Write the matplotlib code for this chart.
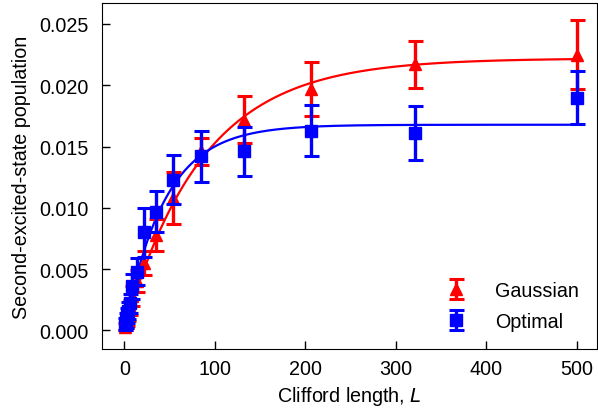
import numpy as np
import matplotlib
matplotlib.use("Agg")
import matplotlib.pyplot as plt

plt.rcParams['font.family'] = ['Liberation Sans', 'DejaVu Sans']
plt.rcParams['font.size'] = 14.2

# Clifford sequence lengths
lengths = [1, 2, 3, 4, 6, 9, 14, 22, 35, 54, 85, 132, 206, 321, 500]

# Gaussian pulse
gauss_pop = [0.0003, 0.0006, 0.0009, 0.0013, 0.0019, 0.0028, 0.0040, 0.0055,
             0.0078, 0.0108, 0.0146, 0.0172, 0.0197, 0.0217, 0.0225]
gauss_err = [0.0003, 0.0004, 0.0005, 0.0005, 0.0006, 0.0008, 0.0009, 0.0010,
             0.0013, 0.0021, 0.0011, 0.0019, 0.0022, 0.0019, 0.0028]

# Optimal pulse
opt_pop = [0.0005, 0.0008, 0.0012, 0.0016, 0.0022, 0.0036, 0.0048, 0.0080,
           0.0097, 0.0123, 0.0142, 0.0146, 0.0163, 0.0161, 0.0190]
opt_err = [0.0005, 0.0006, 0.0006, 0.0007, 0.0008, 0.0010, 0.0011, 0.0020,
           0.0017, 0.0020, 0.0021, 0.0020, 0.0021, 0.0022, 0.0022]

# saturation fits  p(L) = A * (1 - exp(-L / tau))
gauss_fit = {'A': 0.0222, 'tau': 85.8}
opt_fit = {'A': 0.01678, 'tau': 44.5}


def saturation(L, A, tau):
    return A * (1 - np.exp(-L / tau))


fig = plt.figure(figsize=(5.98, 4.14), dpi=100)
ax = fig.add_axes([0.170, 0.155, 0.828, 0.835])

Lfine = np.linspace(0, max(lengths), 400)
ax.plot(Lfine, saturation(Lfine, **gauss_fit), color='#ff0000', lw=1.6, zorder=2)
ax.plot(Lfine, saturation(Lfine, **opt_fit), color='#0000ff', lw=1.6, zorder=2)

ax.errorbar(lengths, gauss_pop, yerr=gauss_err, fmt='^', color='#ff0000',
            ms=9, elinewidth=2.4, capsize=5.4, capthick=2.2, label='Gaussian', zorder=3)
ax.errorbar(lengths, opt_pop, yerr=opt_err, fmt='s', color='#0000ff',
            ms=8.5, elinewidth=2.4, capsize=5.4, capthick=2.2, label='Optimal', zorder=4)

ax.set_xlim(-25, 522)
ax.set_ylim(-0.0015, 0.0267)
ax.set_xticks([0, 100, 200, 300, 400, 500])
ax.set_yticks([0.000, 0.005, 0.010, 0.015, 0.020, 0.025])
ax.yaxis.set_major_formatter(matplotlib.ticker.FormatStrFormatter('%.3f'))
ax.tick_params(direction='in', length=5.5, width=1)
ax.tick_params(axis='y', pad=9.5)
ax.tick_params(axis='x', pad=7)

ax.set_xlabel('Clifford length, $\\mathit{L}$', labelpad=5)
ax.set_ylabel('Second-excited-state population', labelpad=6)

ax.legend(loc='lower right', frameon=False, handletextpad=1.0, labelspacing=0.62,
          bbox_to_anchor=(1.0, 0.0))

fig.savefig('out.png', dpi=100)
